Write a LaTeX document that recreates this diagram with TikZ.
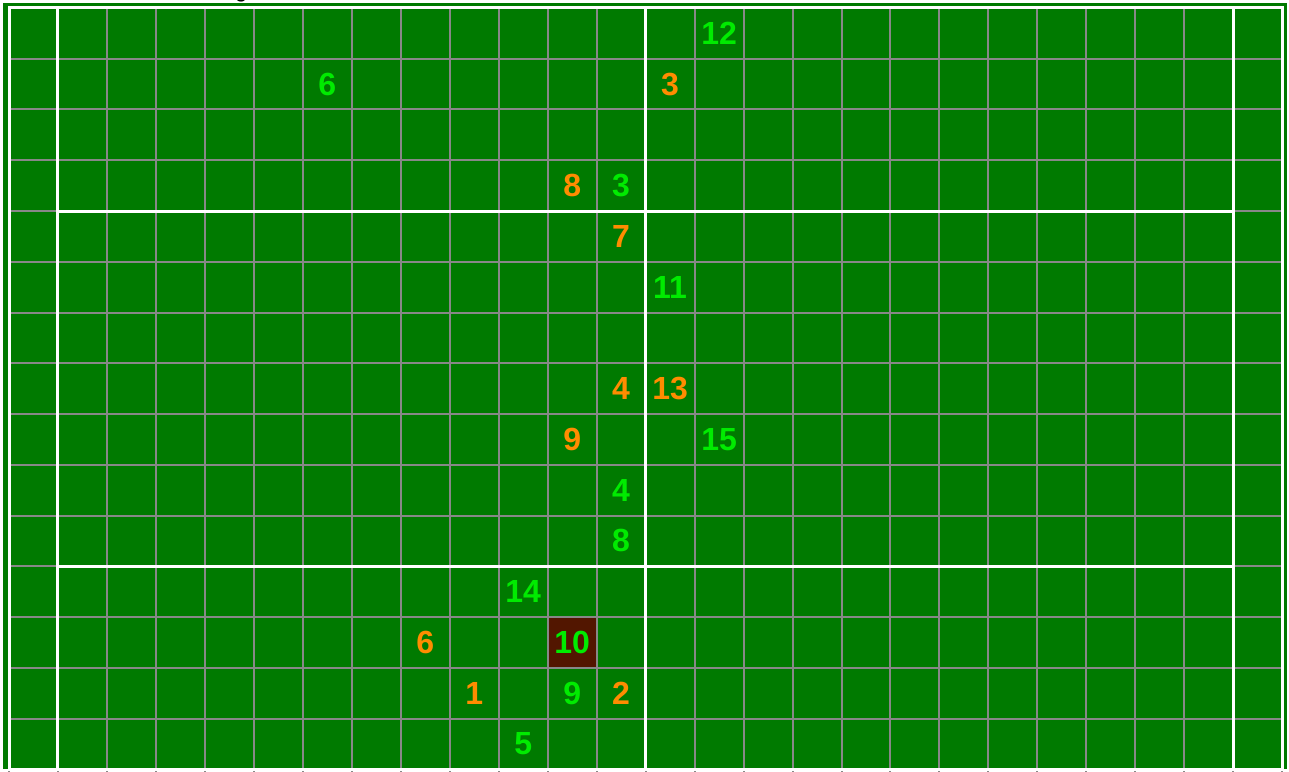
\documentclass[tikz,border=0pt]{standalone}
\usepackage{fontspec}
\setmainfont{Liberation Sans}
\definecolor{pitchgreen}{RGB}{0,122,0}
\definecolor{gridgray}{RGB}{136,136,136}
\definecolor{homelime}{RGB}{0,235,0}
\definecolor{awayorange}{RGB}{255,140,0}
\definecolor{markbrown}{RGB}{82,22,0}
\tikzset{
	gridline/.style={draw=gridgray,line width=1pt},
	pitchline/.style={draw=white,line width=1.5pt},
	num/.style={font=\fontsize{16}{16}\selectfont\bfseries,inner sep=0pt},
	home/.style={num,text=homelime},
	away/.style={num,text=awayorange},
}

\begin{document}
\begin{tikzpicture}[x=24.485pt,y=-25.375pt]
	\useasboundingbox (-0.1838,-0.1576) rectangle (26.138,15.054);
	
	% title, cut off by the top edge
	\node[font=\fontsize{11}{11}\selectfont,anchor=base,inner sep=0pt]
	(title) at (4.74,-0.199) {g};
	
	\fill[pitchgreen] (-0.1225,-0.0985) rectangle (26.097,15.0);
	\fill[markbrown] (11,12) rectangle (12,13);
	
	% cell grid
	\foreach \i in {0,...,26}
	\draw[gridline] (\i,0) -- (\i,15.054);
	\foreach \j in {1,...,14}
	\draw[gridline] (0,\j) -- (26,\j);
	
	% field markings
	\draw[pitchline] (0,0) rectangle (26,15);
	\draw[pitchline] (1,0) -- (1,15);
	\draw[pitchline] (13,0) -- (13,15);
	\draw[pitchline] (25,0) -- (25,15);
	\draw[pitchline] (1,4) -- (25,4);
	\draw[pitchline] (1,11) -- (25,11);
	
	% players
	\node[home] (h12) at (14.5,0.5) {12};
	\node[home] (h6) at (6.5,1.5) {6};
	\node[away] (a3) at (13.5,1.5) {3};
	\node[away] (a8) at (11.5,3.5) {8};
	\node[home] (h3) at (12.5,3.5) {3};
	\node[away] (a7) at (12.5,4.5) {7};
	\node[home] (h11) at (13.5,5.5) {11};
	\node[away] (a4) at (12.5,7.5) {4};
	\node[away] (a13) at (13.5,7.5) {13};
	\node[away] (a9) at (11.5,8.5) {9};
	\node[home] (h15) at (14.5,8.5) {15};
	\node[home] (h4) at (12.5,9.5) {4};
	\node[home] (h8) at (12.5,10.5) {8};
	\node[home] (h14) at (10.5,11.5) {14};
	\node[away] (a6) at (8.5,12.5) {6};
	\node[home] (h10) at (11.5,12.5) {10};
	\node[away] (a1) at (9.5,13.5) {1};
	\node[home] (h9) at (11.5,13.5) {9};
	\node[away] (a2) at (12.5,13.5) {2};
	\node[home] (h5) at (10.5,14.5) {5};
	
\end{tikzpicture}
\end{document}
